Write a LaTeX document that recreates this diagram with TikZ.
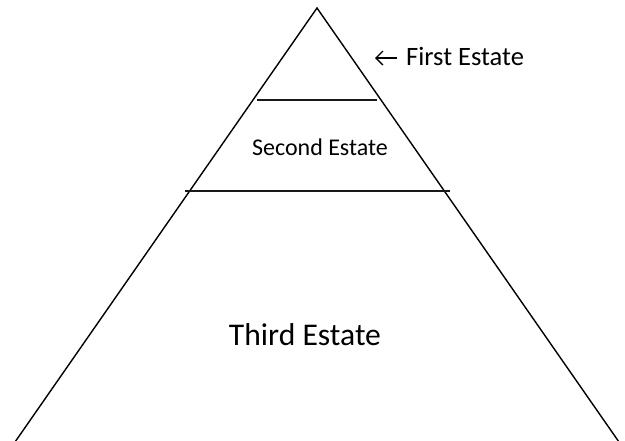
\documentclass[tikz,border=0pt]{standalone}
\usepackage{fontspec}
\setmainfont{Carlito}
\usetikzlibrary{arrows.meta}
\begin{document}
\begin{tikzpicture}[x=1pt,y=-1pt,
  side/.style={line width=1.4pt,black},
  divider/.style={line width=2.6pt,black!90},
  label/.style={inner sep=0pt,text=black},
  pointer/.style={line width=1.4pt,-{Straight Barb[length=7pt,width=14pt]}}]
\fill[white] (0,0) rectangle (625,440);
\useasboundingbox (0,0) rectangle (625,440);
\begin{scope}
\clip (0,0) rectangle (625,440);
\coordinate (apex) at (317,8);
\coordinate (baseL) at (15,442);
\coordinate (baseR) at (619,442);
\draw[side,line join=miter] (baseL) -- (apex) -- (baseR);
\end{scope}
\coordinate (d1L) at (257,100);
\coordinate (d1R) at (377,100);
\coordinate (d2L) at (185,191);
\coordinate (d2R) at (450,191);
\draw[divider] (d1L) -- (d1R);
\draw[divider] (d2L) -- (d2R);
\node[label,anchor=base west,font=\fontsize{26.5}{32}\selectfont] (first) at (406,65) {First Estate};
\coordinate (arrowtail) at (397,58);
\coordinate (arrowtip) at (375,58);
\draw[pointer] (arrowtail) -- (arrowtip);
\node[label,anchor=base,font=\fontsize{24}{29}\selectfont] (second) at (320,155) {Second Estate};
\node[label,anchor=base,font=\fontsize{31.6}{38}\selectfont] (third) at (305,345) {Third Estate};
\end{tikzpicture}
\end{document}
